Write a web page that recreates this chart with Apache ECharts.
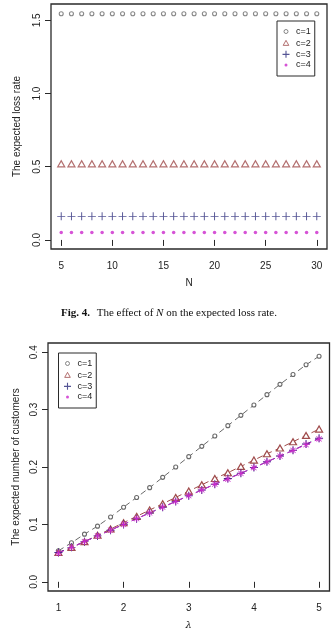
<!DOCTYPE html>
<html><head><meta charset="utf-8">
<script src="https://cdn.jsdelivr.net/npm/echarts@6/dist/echarts.min.js"></script>
<style>html,body{margin:0;padding:0;background:#fff}#c{width:332px;height:634px}</style>
</head><body><div id="c"></div>
<script>
// ---- Fig. 4: expected loss rate vs N ----
const nValues = [5,6,7,8,9,10,11,12,13,14,15,16,17,18,19,20,21,22,23,24,25,26,27,28,29,30];
const lossC1 = [1.545,1.545,1.545,1.545,1.545,1.545,1.545,1.545,1.545,1.545,1.545,1.545,1.545,1.545,1.545,1.545,1.545,1.545,1.545,1.545,1.545,1.545,1.545,1.545,1.545,1.545];
const lossC2 = [0.520,0.520,0.520,0.520,0.520,0.520,0.520,0.520,0.520,0.520,0.520,0.520,0.520,0.520,0.520,0.520,0.520,0.520,0.520,0.520,0.520,0.520,0.520,0.520,0.520,0.520];
const lossC3 = [0.161,0.161,0.161,0.161,0.161,0.161,0.161,0.161,0.161,0.161,0.161,0.161,0.161,0.161,0.161,0.161,0.161,0.161,0.161,0.161,0.161,0.161,0.161,0.161,0.161,0.161];
const lossC4 = [0.050,0.050,0.050,0.050,0.050,0.050,0.050,0.050,0.050,0.050,0.050,0.050,0.050,0.050,0.050,0.050,0.050,0.050,0.050,0.050,0.050,0.050,0.050,0.050,0.050,0.050];
const nTicks = [5,10,15,20,25,30];
const lossTicks = [0,0.5,1,1.5];

// ---- Second chart: expected number of customers vs lambda ----
const lambdaValues = [1.0,1.2,1.4,1.6,1.8,2.0,2.2,2.4,2.6,2.8,3.0,3.2,3.4,3.6,3.8,4.0,4.2,4.4,4.6,4.8,5.0];
const custC1 = [0.054,0.068,0.083,0.097,0.113,0.130,0.147,0.164,0.182,0.200,0.218,0.236,0.254,0.272,0.290,0.308,0.326,0.344,0.361,0.378,0.393];
const custC2 = [0.051,0.060,0.070,0.081,0.092,0.103,0.114,0.125,0.136,0.147,0.158,0.169,0.180,0.190,0.201,0.212,0.223,0.233,0.244,0.255,0.266];
const custC3 = [0.051,0.060,0.070,0.080,0.090,0.100,0.110,0.120,0.130,0.140,0.150,0.160,0.170,0.180,0.189,0.199,0.209,0.219,0.229,0.240,0.250];
const custC4 = [0.050,0.060,0.070,0.080,0.090,0.100,0.110,0.120,0.130,0.140,0.150,0.160,0.170,0.179,0.189,0.199,0.209,0.219,0.229,0.239,0.249];
const lambdaTicks = [1,2,3,4,5];
const custTicks = [0,0.1,0.2,0.3,0.4];

const seriesNames = ['c=1','c=2','c=3','c=4'];
const captionText = 'The effect of ';

const FONT = 'Liberation Sans, Arial, sans-serif';
const AX = '#2a2a2a';
const COL = {c1:'#6a6a6a', c2:'#a04c4c', c3:'#2a2a7a', c4:'#cc28cc'};
const PLUS = 'path://M4.4,0H5.6V4.4H10V5.6H5.6V10H4.4V5.6H0V4.4H4.4Z';
const STAR = 'path://M0,4.4H10V5.6H0Z M4.4,0H5.6V10H4.4Z M1.6,0.9L9.1,8.4L8.4,9.1L0.9,1.6Z M8.4,0.9L9.1,1.6L1.6,9.1L0.9,8.4Z';
const L_CIRC = 'path://M0,0M10,10M7,5A2,2,0,1,1,3,5A2,2,0,1,1,7,5Z';
const L_TRI = 'path://M0,0M10,10M5,2.2L7.8,7.2L2.2,7.2Z';
const L_PLUS = 'path://M0,0M10,10M4.45,1.5H5.55V4.45H8.5V5.55H5.55V8.5H4.45V5.55H1.5V4.45H4.45Z';
const L_DOT = 'path://M0,0M10,10M6.5,5A1.5,1.5,0,1,1,3.5,5A1.5,1.5,0,1,1,6.5,5Z';

function pairs(xs, ys){ return xs.map((x,i)=>[x, ys[i]]); }

function xAxisDef(grid, min, max, ticks, name, italic){
  return {type:'value', gridIndex:grid, min:min, max:max,
    axisLine:{show:false}, splitLine:{show:false},
    axisTick:{show:true, inside:false, length:6, customValues:ticks, lineStyle:{color:AX, width:1}},
    axisLabel:{customValues:ticks, margin:12, fontSize:10, color:'#222', fontFamily:FONT},
    name:name, nameLocation:'middle', nameGap:29,
    nameTextStyle:{fontSize:10, color:'#222', fontFamily: italic ? 'DejaVu Serif, serif' : FONT, fontStyle: italic ? 'italic':'normal'}};
}
function yAxisDef(grid, min, max, ticks, name, gap){
  return {type:'value', gridIndex:grid, min:min, max:max,
    axisLine:{show:false}, splitLine:{show:false},
    axisTick:{show:true, inside:false, length:6, customValues:ticks, lineStyle:{color:AX, width:1}},
    axisLabel:{customValues:ticks, rotate:90, margin:9, fontSize:10, color:'#222', fontFamily:FONT, formatter:(v)=>v.toFixed(1)},
    name:name, nameLocation:'middle', nameRotate:90, nameGap:gap,
    nameTextStyle:{fontSize:10, color:'#222', fontFamily:FONT}};
}
function legendDef(left, top){
  return {left:left, top:top, orient:'vertical', selectedMode:false,
    padding:[5,4,6,3.5], itemGap:0.67, itemWidth:10, itemHeight:10,
    borderColor:AX, borderWidth:1, backgroundColor:'#fff',
    textStyle:{fontSize:9, color:'#222', fontFamily:FONT},
    data:[
      {name:seriesNames[0], icon:L_CIRC, itemStyle:{color:'#fff', borderColor:COL.c1, borderWidth:1}},
      {name:seriesNames[1], icon:L_TRI, itemStyle:{color:'#fff', borderColor:COL.c2, borderWidth:1}},
      {name:seriesNames[2], icon:L_PLUS, itemStyle:{color:COL.c3, borderWidth:0}},
      {name:seriesNames[3], icon:L_DOT, itemStyle:{color:COL.c4, borderWidth:0}}
    ]};
}

const chart = echarts.init(document.getElementById('c'), null, {renderer:'canvas'});
const lineBase = {type:'line', xAxisIndex:1, yAxisIndex:1, showSymbol:true, showAllSymbol:true, silent:true};
chart.setOption({
  animation:false,
  backgroundColor:'#fff',
  grid:[
    {left:51, top:4, width:276, height:245, show:true, borderColor:AX, borderWidth:1.3, backgroundColor:'transparent', containLabel:false},
    {left:48, top:343, width:281.5, height:248, show:true, borderColor:AX, borderWidth:1.3, backgroundColor:'transparent', containLabel:false}
  ],
  xAxis:[ xAxisDef(0, 4, 31, nTicks, 'N', false), xAxisDef(1, 0.84, 5.16, lambdaTicks, 'λ', true) ],
  yAxis:[ yAxisDef(0, -0.062, 1.612, lossTicks, 'The expected loss rate', 29),
          yAxisDef(1, -0.016, 0.416, custTicks, 'The expected number of customers', 27) ],
  legend:[ legendDef(277, 21), legendDef(58.5, 353) ],
  graphic:[{type:'text', x:169, y:313, silent:true,
    style:{text:'{b|Fig. 4.}  {n|' + captionText + '}{i|N}{n| on the expected loss rate.}',
      align:'center', verticalAlign:'middle',
      rich:{b:{fontFamily:'Liberation Serif, serif', fontWeight:'bold', fontSize:11, fill:'#111'},
            n:{fontFamily:'Liberation Serif, serif', fontSize:11, fill:'#111'},
            i:{fontFamily:'Liberation Serif, serif', fontStyle:'italic', fontSize:11, fill:'#111'}}}}],
  series:[
    {name:seriesNames[0], type:'scatter', xAxisIndex:0, yAxisIndex:0, silent:true, data:pairs(nValues, lossC1),
      symbol:'circle', symbolSize:4, itemStyle:{color:'#fff', borderColor:COL.c1, borderWidth:1.1}},
    {name:seriesNames[1], type:'scatter', xAxisIndex:0, yAxisIndex:0, silent:true, data:pairs(nValues, lossC2),
      symbol:'triangle', symbolSize:[7,6], itemStyle:{color:'#fff', borderColor:COL.c2, borderWidth:1.2}},
    {name:seriesNames[2], type:'scatter', xAxisIndex:0, yAxisIndex:0, silent:true, data:pairs(nValues, lossC3),
      symbol:PLUS, symbolSize:8, itemStyle:{color:COL.c3}},
    {name:seriesNames[3], type:'scatter', xAxisIndex:0, yAxisIndex:0, silent:true, data:pairs(nValues, lossC4),
      symbol:'circle', symbolSize:3.5, itemStyle:{color:COL.c4}},

    Object.assign({}, lineBase, {name:seriesNames[0], data:pairs(lambdaValues, custC1), symbol:'circle', symbolSize:4,
      itemStyle:{color:'#fff', borderColor:COL.c1, borderWidth:1.1}, lineStyle:{color:COL.c1, width:1, type:[6,4]}}),
    Object.assign({}, lineBase, {name:seriesNames[1], data:pairs(lambdaValues, custC2), symbol:'triangle', symbolSize:[7,6],
      itemStyle:{color:'#fff', borderColor:COL.c2, borderWidth:1.2}, lineStyle:{color:COL.c2, width:1, type:[6,4]}}),
    Object.assign({}, lineBase, {name:seriesNames[2], data:pairs(lambdaValues, custC3), symbol:PLUS, symbolSize:8,
      itemStyle:{color:COL.c3}, lineStyle:{color:COL.c3, width:1, type:[6,4]}}),
    Object.assign({}, lineBase, {name:seriesNames[3], data:pairs(lambdaValues, custC4), symbol:STAR, symbolSize:7,
      itemStyle:{color:COL.c4}, lineStyle:{color:COL.c4, width:1, type:[6,4]}})
  ]
});
</script></body></html>
